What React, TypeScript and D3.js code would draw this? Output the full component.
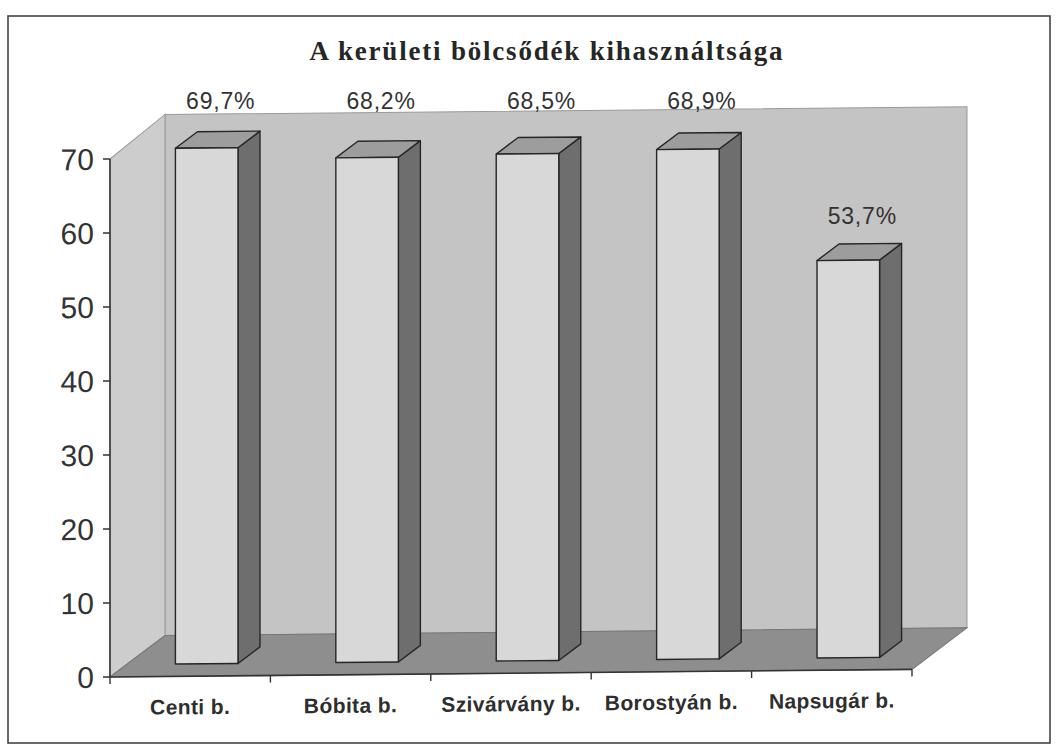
import * as d3 from 'd3';

const categories = ['Centi b.', 'Bóbita b.', 'Szivárvány b.', 'Borostyán b.', 'Napsugár b.'];
const values = [69.7, 68.2, 68.5, 68.9, 53.7];
const valueLabels = ['69,7%', '68,2%', '68,5%', '68,9%', '53,7%'];
const yTicks = [0, 10, 20, 30, 40, 50, 60, 70];
const title = 'A kerületi bölcsődék kihasználtsága';

const W = 1056;
const H = 744;
// plot front plane
const X0 = 110;
const X1 = 912;
const Y0 = 677;
const Y70 = 159;
// depth of the 3D box
const DX = 55;
const DY = -41;
// bars sit between these depth fractions
const D_FRONT = 0.3;
const D_BACK = 0.7;
const BAR_RATIO = 0.39;
// slight tilt of the whole scan (px per px)
const T = 0.0095;
// labels of tall bars are lifted to this line, above the plot
const LABEL_LINE = 109;

const tilt = (x: number) => -(x - X0) * T;

const App = () => {
  const x = d3.scaleBand<string>().domain(categories).range([X0, X1]).padding(0);
  const y = d3.scaleLinear().domain([0, 70]).range([Y0, Y70]);

  const bw = x.bandwidth() * BAR_RATIO;
  const fdx = DX * D_FRONT;
  const fdy = DY * D_FRONT;
  const bdx = DX * D_BACK;
  const bdy = DY * D_BACK;

  const pts = (arr: [number, number][]) => arr.map((p) => p.join(',')).join(' ');

  const wallTop = y(70) + DY - 3;

  const bars = values.map((v, i) => {
    const cx = (x(categories[i]) as number) + x.bandwidth() / 2;
    const l = cx - bw / 2 + fdx;
    const r = l + bw;
    const top = y(v) + fdy;
    const bot = y(0) + fdy;
    const sdx = bdx - fdx;
    const sdy = bdy - fdy;
    return (
      <g key={i} stroke="#262626" strokeWidth={1.4} strokeLinejoin="round">
        <polygon points={pts([[r, top], [r + sdx, top + sdy], [r + sdx, bot + sdy], [r, bot]])} fill="#6e6e6e" />
        <polygon points={pts([[l, top], [l + sdx, top + sdy], [r + sdx, top + sdy], [r, top]])} fill="#9d9d9d" />
        <rect x={l} y={top} width={bw} height={bot - top} fill="#d8d8d8" />
      </g>
    );
  });

  const labels = values.map((v, i) => {
    const cx = (x(categories[i]) as number) + x.bandwidth() / 2 + fdx + 14;
    const backTop = y(v) + bdy + tilt(cx);
    const ly = backTop - 20 > 140 ? backTop - 20 : LABEL_LINE;
    return (
      <text key={i} x={cx} y={ly} textAnchor="middle" fontSize={23} letterSpacing={0.8} fill="#333">
        {valueLabels[i]}
      </text>
    );
  });

  return (
    <svg
      width={W}
      height={H}
      style={{ position: 'absolute', left: 0, top: 0, fontFamily: 'Arial, "Liberation Sans", sans-serif' }}
    >
      <rect x={0} y={0} width={W} height={H} fill="#fff" />
      <rect x={8} y={16} width={1042} height={727} fill="#fff" stroke="#444" strokeWidth={1.6} />
      <text
        x={547}
        y={60}
        textAnchor="middle"
        fontFamily='"Times New Roman", "Liberation Serif", serif'
        fontWeight="bold"
        fontSize={27}
        letterSpacing={1.8}
        fill="#262626"
      >
        {title}
      </text>

      <g transform={`translate(0, ${X0 * T}) skewY(${(-Math.atan(T) * 180) / Math.PI})`}>
        {/* back wall */}
        <polygon
          points={pts([[X0 + DX, wallTop], [X1 + DX, wallTop], [X1 + DX, y(0) + DY], [X0 + DX, y(0) + DY]])}
          fill="#c4c4c4"
          stroke="#9a9a9a"
          strokeWidth={1}
        />
        {/* left wall */}
        <polygon
          points={pts([[X0, y(70)], [X0 + DX, wallTop], [X0 + DX, y(0) + DY], [X0, y(0)]])}
          fill="#cdcdcd"
          stroke="#9a9a9a"
          strokeWidth={1}
        />
        {/* floor */}
        <polygon
          points={pts([[X0, y(0)], [X0 + DX, y(0) + DY], [X1 + DX, y(0) + DY], [X1, y(0)]])}
          fill="#8e8e8e"
          stroke="#777"
          strokeWidth={1}
        />
        {bars}
        {/* axes */}
        <line x1={X0} x2={X0} y1={y(70)} y2={y(0)} stroke="#333" strokeWidth={1.6} />
        <line x1={X0} x2={X1} y1={y(0)} y2={y(0)} stroke="#333" strokeWidth={1.6} />
        {yTicks.map((t) => (
          <g key={t}>
            <line x1={X0 - 7} x2={X0} y1={y(t)} y2={y(t)} stroke="#333" strokeWidth={1.4} />
            <text x={X0 - 16} y={y(t)} dy="0.36em" textAnchor="end" fontSize={30} fill="#333">
              {t}
            </text>
          </g>
        ))}
        {[...categories.map((c) => x(c) as number), X1].map((tx, i) => (
          <line key={i} x1={tx} x2={tx} y1={y(0)} y2={y(0) + 7} stroke="#333" strokeWidth={1.4} />
        ))}
        {categories.map((c) => (
          <text
            key={c}
            x={(x(c) as number) + x.bandwidth() / 2}
            y={715}
            textAnchor="middle"
            fontSize={21}
            fontWeight="bold"
            letterSpacing={0.4}
            fill="#2e2e2e"
          >
            {c}
          </text>
        ))}
      </g>
      {labels}
    </svg>
  );
};

export default App;
